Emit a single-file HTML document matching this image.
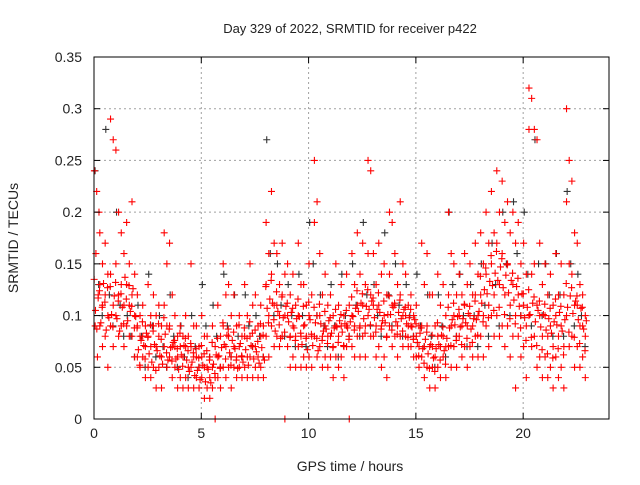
<!DOCTYPE html>
<html><head><meta charset="utf-8"><style>
body{margin:0;background:#fff}
svg text{font-family:"Liberation Sans",sans-serif;fill:#222}
</style></head><body>
<svg id="chart" width="640" height="480" viewBox="0 0 640 480" xmlns="http://www.w3.org/2000/svg">
<rect width="640" height="480" fill="#fff"/>
<text x="350" y="33" font-size="13" text-anchor="middle">Day 329 of 2022, SRMTID for receiver p422</text>
<g id="grid"></g>
<g id="black"></g>
<g id="red"></g>
<rect x="94" y="57" width="515" height="362" fill="none" stroke="#000" stroke-width="1"/>
<g id="ticks"></g>
<text transform="translate(18,238) rotate(-90)" font-size="14" text-anchor="middle">SRMTID / TECUs</text>
<text x="350" y="471" font-size="14" text-anchor="middle">GPS time / hours</text>
</svg>
<script>
const xTicks=[0,5,10,15,20];
const yTicks=[0,0.05,0.1,0.15,0.2,0.25,0.3,0.35];
const yTickLabels=["0","0.05","0.1","0.15","0.2","0.25","0.3","0.35"];
const binHours=0.25;
const redBins=[
[.24,.22,.2,.16,.12,.09,.06],[.18,.15,.13,.11,.09,.07],[.17,.14,.12,.1,.08,.05],[.29,.27,.14,.11,.09,.07],
[.26,.2,.15,.12,.1,.08],[.18,.16,.13,.11,.09,.07],[.19,.15,.13,.11,.09,.08],[.21,.14,.12,.1,.08,.06],
[.12,.1,.09,.08,.06,.05],[.11,.09,.08,.07,.06,.04],[.13,.1,.08,.07,.05,.04],[.12,.1,.09,.07,.05,.03],
[.11,.09,.08,.06,.05,.03],[.18,.15,.11,.09,.07,.05],[.17,.12,.09,.07,.06,.04],[.1,.08,.07,.06,.05,.03],
[.09,.08,.07,.06,.04,.03],[.1,.08,.07,.05,.04,.03],[.15,.09,.07,.06,.05,.03],[.09,.07,.06,.05,.04,.03],
[.1,.08,.06,.05,.04,.02],[.08,.06,.05,.04,.03,.02],[.09,.07,.05,.04,.03,0],[.11,.08,.06,.05,.04,.03],
[.15,.12,.09,.07,.05,.04],[.13,.1,.08,.06,.05,.03],[.12,.09,.07,.06,.05,.04],[.1,.08,.07,.06,.05,.04],
[.13,.1,.08,.06,.05,.04],[.15,.11,.08,.07,.06,.04],[.12,.09,.07,.06,.05,.04],[.11,.09,.08,.06,.05,.04],
[.19,.16,.13,.1,.08,.06],[.22,.17,.14,.11,.09,.07],[.16,.13,.11,.1,.08,.07],[.17,.14,.12,.1,.08,0],
[.15,.12,.1,.08,.07,.05],[.14,.11,.09,.08,.06,.05],[.17,.13,.1,.08,.07,.05],[.13,.11,.09,.08,.06,.05],
[.15,.12,.1,.08,.06,.05],[.25,.21,.19,.1,.08,.06],[.16,.12,.1,.08,.07,.05],[.14,.11,.09,.08,.06,.05],
[.12,.1,.08,.07,.06,.04],[.15,.11,.09,.08,.06,.05],[.13,.1,.09,.07,.06,.04],[.14,.11,.09,.08,.07,0],
[.16,.13,.1,.09,.07,.06],[.18,.14,.11,.09,.08,.06],[.17,.13,.11,.09,.08,.06],[.25,.24,.16,.12,.1,.08],
[.16,.13,.11,.09,.08,.06],[.17,.14,.11,.09,.07,.05],[.15,.12,.1,.08,.06,.04],[.2,.19,.14,.11,.09,.07],
[.16,.13,.11,.09,.08,.06],[.21,.15,.12,.1,.08,.07],[.14,.11,.1,.09,.08,.07],[.12,.1,.09,.08,.07,.06],
[.11,.09,.08,.07,.06,.05],[.17,.13,.09,.07,.06,.04],[.16,.12,.09,.07,.05,.03],[.12,.09,.07,.06,.05,.03],
[.14,.11,.08,.07,.05,.04],[.13,.1,.08,.07,.06,.04],[.2,.16,.12,.09,.07,.05],[.15,.12,.1,.08,.07,.05],
[.14,.12,.1,.09,.08,.06],[.16,.13,.11,.09,.07,.05],[.15,.12,.1,.09,.07,.06],[.17,.14,.12,.1,.08,.06],
[.18,.15,.12,.1,.08,.06],[.2,.17,.14,.11,.09,.07],[.22,.18,.15,.12,.1,.08],[.24,.2,.17,.13,.1,.08],
[.23,.19,.16,.12,.09,.07],[.21,.18,.15,.11,.09,.06],[.2,.17,.13,.1,.08,.03],[.19,.15,.12,.1,.08,.06],
[.17,.14,.11,.09,.07,.04],[.32,.31,.28,.14,.1,.07],[.28,.27,.15,.11,.08,.05],[.17,.13,.1,.08,.06,.04],
[.15,.12,.1,.08,.06,.04],[.14,.11,.09,.07,.05,.03],[.16,.12,.1,.08,.06,.04],[.15,.12,.09,.07,.05,.03],
[.3,.25,.21,.15,.1,.07],[.23,.18,.14,.11,.08,.05],[.17,.13,.11,.09,.07,.05],[.12,.1,.09,.08,.06,.04]
];
const redBins2=[
[.135,.105,.087,.117],[.124,.093,.108,.131],[.113,.086,.127,.098],[.128,.101,.089,.119],
[.132,.097,.114,.085],[.121,.108,.092,.137],[.116,.095,.129,.104],[.109,.126,.088,.099],
[.088,.067,.052,.076],[.094,.071,.058,.083],[.079,.063,.091,.055],[.085,.072,.047,.066],
[.092,.061,.077,.053],[.098,.082,.064,.057],[.087,.069,.056,.074],[.076,.058,.068,.048],
[.083,.062,.051,.071],[.078,.057,.066,.046],[.073,.055,.064,.042],[.068,.047,.059,.038],
[.071,.052,.063,.036],[.066,.048,.057,.035],[.074,.053,.044,.062],[.078,.061,.049,.069],
[.093,.072,.058,.081],[.087,.064,.052,.076],[.084,.068,.057,.049],[.091,.073,.061,.055],
[.088,.067,.078,.052],[.094,.071,.083,.058],[.086,.065,.075,.054],[.092,.069,.081,.057],
[.128,.107,.093,.116],[.134,.112,.096,.085],[.123,.104,.091,.078],[.118,.098,.084,.109],
[.112,.094,.079,.103],[.107,.088,.076,.097],[.116,.099,.083,.072],[.109,.091,.078,.067],
[.113,.096,.082,.071],[.108,.093,.078,.066],[.111,.092,.076,.085],[.104,.087,.073,.095],
[.098,.083,.069,.088],[.106,.089,.074,.095],[.101,.084,.071,.092],[.105,.088,.077,.094],
[.118,.099,.086,.107],[.124,.104,.088,.112],[.121,.097,.083,.109],[.125,.106,.091,.114],
[.117,.098,.084,.106],[.122,.103,.087,.095],[.114,.093,.079,.101],[.119,.101,.086,.108],
[.112,.094,.082,.103],[.115,.097,.085,.106],[.108,.092,.079,.098],[.106,.089,.077,.096],
[.092,.074,.061,.083],[.088,.068,.054,.077],[.084,.063,.049,.072],[.081,.059,.046,.068],
[.093,.072,.057,.081],[.089,.066,.053,.078],[.108,.088,.071,.096],[.112,.091,.076,.099],
[.106,.089,.072,.097],[.111,.093,.078,.102],[.109,.087,.074,.097],[.114,.096,.081,.104],
[.138,.112,.094,.125],[.146,.121,.098,.133],[.158,.129,.105,.141],[.162,.134,.108,.147],
[.155,.127,.101,.139],[.149,.122,.097,.134],[.141,.115,.092,.128],[.136,.109,.088,.121],
[.121,.098,.076,.108],[.125,.101,.079,.112],[.118,.094,.071,.105],[.114,.089,.067,.101],
[.111,.086,.063,.097],[.107,.083,.059,.094],[.116,.091,.068,.103],[.109,.085,.062,.096],
[.131,.108,.084,.119],[.127,.102,.079,.114],[.119,.096,.073,.107],[.108,.087,.066,.095]
];
const blackBinHours=0.5;
const blackBins=[
[.24,.13,.1],[.28,.12,.09],[.2,.11,.08],[.1,.08,.06],[.11,.08,.05],[.14,.09,.06],[.1,.07,.05],[.12,.08,.05],
[.09,.06,.04],[.1,.07,.05],[.13,.09,.06],[.11,.08,.05],[.14,.09,.06],[.12,.08,.06],[.12,.09,.07],[.1,.08,.06],
[.27,.16,.1],[.15,.11,.08],[.13,.1,.07],[.14,.1,.07],[.19,.15,.1],[.12,.09,.07],[.13,.09,.06],[.14,.1,.08],
[.15,.11,.08],[.19,.12,.09],[.13,.1,.08],[.18,.12,.09],[.15,.11,.08],[.13,.1,.08],[.14,.09,.07],[.12,.08,.05],
[.12,.09,.06],[.2,.13,.08],[.14,.1,.07],[.13,.1,.07],[.15,.11,.08],[.17,.13,.09],[.2,.15,.1],[.21,.16,.1],
[.2,.14,.09],[.27,.15,.1],[.15,.12,.08],[.16,.12,.08],[.22,.15,.09],[.14,.1,.07]
];
const NS='http://www.w3.org/2000/svg';
const X0=94,X1=609,Y0=419,Y1=57,XMAX=24,YMAX=0.35;
function xs(v){return X0+(X1-X0)*v/XMAX;}
function ys(v){return Y0-(Y0-Y1)*v/YMAX;}
function mk(tag,attrs,parent){const e=document.createElementNS(NS,tag);for(const k in attrs)e.setAttribute(k,attrs[k]);parent.appendChild(e);return e;}
const grid=document.getElementById('grid'),ticks=document.getElementById('ticks');
xTicks.forEach(t=>{
  const x=xs(t);
  if(t>0){const g=mk('line',{x1:x,x2:x,y1:Y1,y2:Y0,stroke:'#a0a0a0','stroke-dasharray':'2,3'},grid);
  
  }
  mk('line',{x1:x,x2:x,y1:Y0,y2:Y0-6,stroke:'#000'},ticks);
  mk('line',{x1:x,x2:x,y1:Y1,y2:Y1+6,stroke:'#000'},ticks);
  const l=mk('text',{x:x,y:Y0+19,'font-size':14,'text-anchor':'middle'},ticks);
  l.textContent=String(t);
  
  
});
yTicks.forEach((t,i)=>{
  const y=ys(t);
  if(i>0&&i<yTicks.length-1){const g=mk('line',{x1:X0,x2:X1,y1:y,y2:y,stroke:'#a0a0a0','stroke-dasharray':'2,3'},grid);
  
  }
  mk('line',{x1:X0,x2:X0+6,y1:y,y2:y,stroke:'#000'},ticks);
  mk('line',{x1:X1,x2:X1-6,y1:y,y2:y,stroke:'#000'},ticks);
  const l=mk('text',{x:X0-12,y:y+5,'font-size':14,'text-anchor':'end'},ticks);
  l.textContent=yTickLabels[i];
  
  
});
function plus(parent,h,v,color,name){
  const x=xs(h),y=ys(v);
  const p=mk('path',{d:`M${x-3.5},${y}h7M${x},${y-3.5}v7`,stroke:color,'stroke-width':1.1,fill:'none'},parent);
  
  
}
const bg=document.getElementById('black');
blackBins.forEach((vals,i)=>vals.forEach((v,j)=>plus(bg,i*blackBinHours+(j+0.3)*blackBinHours/vals.length,v,'#333','black-point')));
const rg=document.getElementById('red');
redBins.forEach((vals,i)=>vals.forEach((v,j)=>plus(rg,i*binHours+((j*3)%vals.length+0.5)*binHours/vals.length,v,'#ff0000','red-point')));
redBins2.forEach((vals,i)=>vals.forEach((v,j)=>plus(rg,i*binHours+(j+0.1)*binHours/vals.length,v,'#ff0000','red-point')));
</script>
</body></html>
